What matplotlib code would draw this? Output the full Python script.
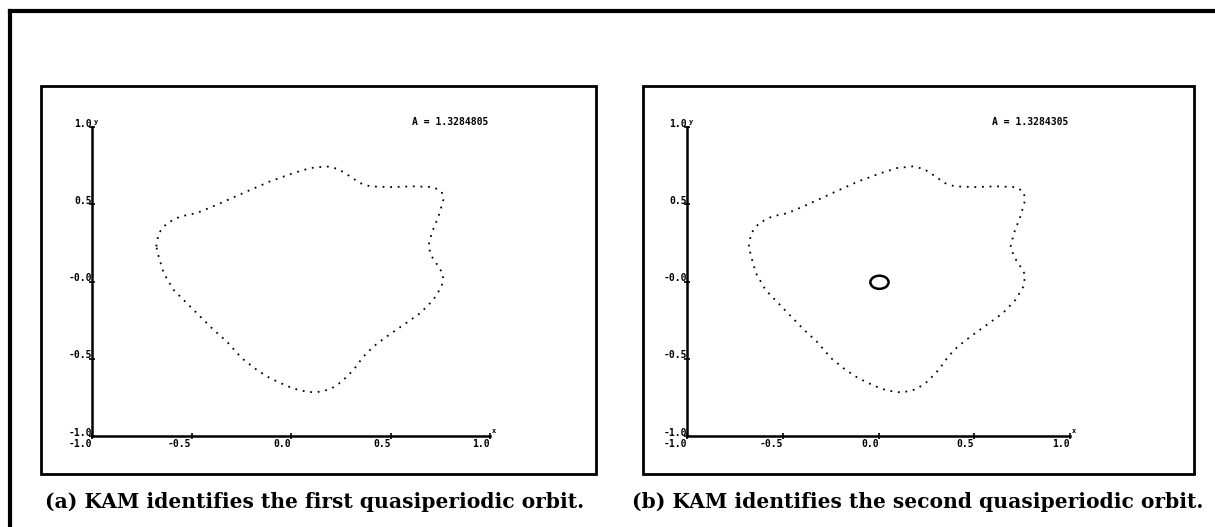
import matplotlib.pyplot as plt
from matplotlib.patches import Rectangle, Ellipse
from matplotlib.lines import Line2D

# first quasiperiodic orbit
orbit_x = [-0.677, -0.665, -0.623, -0.556, -0.473, -0.372, -0.222, -0.105, 0.013, 0.096,
           0.180, 0.238, 0.297, 0.347, 0.397, 0.498, 0.615, 0.715, 0.757, 0.766,
           0.741, 0.707, 0.690, 0.707, 0.741, 0.766, 0.757, 0.715, 0.649, 0.565,
           0.481, 0.414, 0.364, 0.314, 0.255, 0.197, 0.121, 0.046, -0.021, -0.105,
           -0.172, -0.247, -0.322, -0.389, -0.473, -0.540, -0.590, -0.640, -0.665, -0.677]
orbit_y = [0.227, 0.313, 0.378, 0.421, 0.443, 0.497, 0.583, 0.648, 0.702, 0.734,
           0.745, 0.728, 0.680, 0.637, 0.616, 0.611, 0.616, 0.611, 0.583, 0.529,
           0.421, 0.313, 0.227, 0.162, 0.097, 0.043, -0.032, -0.119, -0.205, -0.281,
           -0.356, -0.421, -0.486, -0.572, -0.648, -0.698, -0.719, -0.706, -0.676, -0.626,
           -0.572, -0.497, -0.389, -0.313, -0.205, -0.119, -0.054, 0.054, 0.162, 0.227]

# second orbit: small closed curve near the origin
orbit2_center = (0.005, -0.005)
orbit2_size = (0.095, 0.085)

ticks = [-1.0, -0.5, 0.0, 0.5, 1.0]
xtick_labels = ['-1.0', '-0.5', '0.0', '0.5', '1.0']
ytick_labels = ['-1.0', '-0.5', '-0.0', '0.5', '1.0']
a_labels = ['A = 1.3284805', 'A = 1.3284305']
captions = ['(a) KAM identifies the first quasiperiodic orbit.',
            '(b) KAM identifies the second quasiperiodic orbit.']

W, H = 1215, 527
fig = plt.figure(figsize=(W / 100, H / 100), dpi=100)

def fx(px):
    return px / W

def fy(py):
    return 1 - py / H

# outer frame (top and left only)
fig.add_artist(Line2D([fx(10), 1], [fy(11), fy(11)], color='black', lw=3))
fig.add_artist(Line2D([fx(10), fx(10)], [fy(11), 0], color='black', lw=3))

boxes = [(41, 596), (643, 1194)]
axes_px = [(92, 490), (687, 1070)]
caption_x = [45, 632]
mono = {'family': 'DejaVu Sans Mono', 'weight': 'bold', 'size': 7}

for i in range(2):
    bx0, bx1 = boxes[i]
    fig.add_artist(Rectangle((fx(bx0), fy(474)), fx(bx1 - bx0), (474 - 86) / H,
                             fill=False, lw=2, edgecolor='black'))
    ax0, ax1 = axes_px[i]
    ax = fig.add_axes([fx(ax0), fy(436), fx(ax1 - ax0), (436 - 127) / H])
    ax.set_xlim(-1, 1)
    ax.set_ylim(-1, 1)
    for s in ['top', 'right']:
        ax.spines[s].set_visible(False)
    ax.spines['left'].set_linewidth(1.8)
    ax.spines['bottom'].set_linewidth(1.8)
    ax.set_xticks(ticks)
    ax.set_yticks(ticks)
    ax.set_xticklabels([])
    ax.set_yticklabels([])
    ax.tick_params(direction='inout', length=4, width=1.2)
    for t, lab in zip(ticks, xtick_labels):
        ax.text(t, -1.02, lab, ha='right', va='top', fontdict=mono)
    for t, lab in zip(ticks, ytick_labels):
        ax.text(-1.0, t - 0.01, lab, ha='right', va='bottom', fontdict=mono)
    ax.text(1.01, -0.99, 'x', ha='left', va='bottom', fontdict={**mono, 'size': 5})
    ax.text(-0.99, 1.01, 'y', ha='left', va='bottom', fontdict={**mono, 'size': 5})
    ax.text(0.99, 1.03, a_labels[i], ha='right', va='center', fontdict=mono)

    ax.plot(orbit_x, orbit_y, color='black', lw=1.3, linestyle=(0, (1, 3.2)))
    if i == 1:
        ax.add_patch(Ellipse(orbit2_center, orbit2_size[0], orbit2_size[1],
                             fill=False, lw=1.8, edgecolor='black'))

    fig.text(fx(caption_x[i]), fy(502), captions[i],
             ha='left', va='center', family='DejaVu Serif', weight='bold', size=14.6)

fig.savefig('out.png', dpi=100)
